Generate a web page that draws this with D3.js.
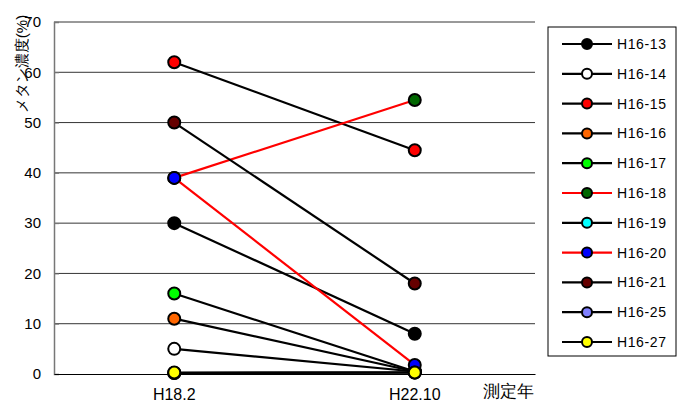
<!DOCTYPE html>
<html>
<head>
<meta charset="utf-8">
<script src="https://cdn.jsdelivr.net/npm/d3@7"></script>
<style>
  body { margin: 0; background: #fff; }
  text { font-family: "Liberation Sans", Arial, sans-serif; }
</style>
</head>
<body>
<svg id="chart" width="678" height="405"></svg>
<script>
const years = ["H18.2", "H22.10"];
const names = ["H16-13", "H16-14", "H16-15", "H16-16", "H16-17", "H16-18",
               "H16-19", "H16-20", "H16-21", "H16-25", "H16-27"];
const valuesH18 = [30, 5, 62, 11, 16, 39, 0.2, 39, 50, 0.2, 0.3];
const valuesH22 = [8, 0.5, 44.5, 0.5, 0.5, 54.5, 0.3, 1.8, 18, 0.3, 0.3];
const fills = ["#000000", "#ffffff", "#ff0000", "#ff6600", "#00ff00", "#006600",
               "#00ffff", "#0000ff", "#660000", "#8080ff", "#ffff00"];
const lineColors = ["#000", "#000", "#000", "#000", "#000", "#ff0000",
                    "#000", "#ff0000", "#000", "#000", "#000"];
const yTicks = [0, 10, 20, 30, 40, 50, 60, 70];

const margin = { top: 22, left: 54, bottom: 31, right: 143 };
const width = 678 - margin.left - margin.right;
const height = 405 - margin.top - margin.bottom;

const svg = d3.select('#chart');

const x = d3.scaleBand()
  .domain(years)
  .range([0, width]);

const y = d3.scaleLinear()
  .domain([0, 70])
  .range([height, 0]);

const chart = svg.append('g')
  .attr('transform', 'translate(' + margin.left + ',' + margin.top + ')');

// gridlines
chart.selectAll('.grid')
    .data(yTicks.slice(1))
  .enter().append('line')
    .attr('x1', 0)
    .attr('x2', width)
    .attr('y1', d => y(d))
    .attr('y2', d => y(d))
    .attr('stroke', '#000')
    .attr('stroke-width', 0.8);

const yAxis = chart.append('g')
  .call(d3.axisLeft(y).tickValues(yTicks).tickSize(-5).tickPadding(13));
yAxis.select('.domain').attr('stroke', '#777').attr('stroke-width', 1.5);
yAxis.selectAll('.tick line').attr('stroke', '#777');
yAxis.selectAll('.tick text')
  .attr('font-size', 15)
  .attr('fill', '#000')
  .attr('font-family', '"Liberation Sans", Arial, sans-serif');

const xAxis = chart.append('g')
  .attr('transform', 'translate(0,' + height + ')')
  .call(d3.axisBottom(x).tickSize(0).tickPadding(15));
xAxis.select('.domain').attr('stroke', '#000').attr('stroke-width', 1.2);
xAxis.selectAll('.tick text')
  .attr('font-size', 16)
  .attr('fill', '#000')
  .attr('font-family', '"Liberation Sans", Arial, sans-serif');

const series = names.map((n, i) => ({
  name: n,
  values: [valuesH18[i], valuesH22[i]],
  fill: fills[i],
  stroke: lineColors[i]
}));

const line = d3.line()
  .x((d, j) => x(years[j]) + x.bandwidth() / 2)
  .y(d => y(d));

const g = chart.selectAll('.series')
    .data(series)
  .enter().append('g');

g.append('path')
  .attr('d', d => line(d.values))
  .attr('fill', 'none')
  .attr('stroke', d => d.stroke)
  .attr('stroke-width', 2.2);

g.selectAll('circle')
    .data(d => d.values.map(v => ({ v: v, fill: d.fill })))
  .enter().append('circle')
    .attr('cx', (d, j) => x(years[j]) + x.bandwidth() / 2)
    .attr('cy', d => y(d.v))
    .attr('r', 6)
    .attr('fill', d => d.fill)
    .attr('stroke', '#000')
    .attr('stroke-width', 2);

// axis titles
svg.append('text')
  .attr('transform', 'translate(21,64) rotate(-90)')
  .attr('text-anchor', 'middle')
  .attr('dominant-baseline', 'central')
  .attr('font-size', 15)
  .attr('font-family', '"Noto Sans CJK JP", sans-serif')
  .text('メタン濃度(%)');

svg.append('text')
  .attr('x', 483)
  .attr('y', 397)
  .attr('font-size', 17)
  .attr('font-family', '"Noto Sans CJK JP", sans-serif')
  .text('測定年');

// legend
const legend = svg.append('g').attr('transform', 'translate(548,27)');
legend.append('rect')
  .attr('width', 128)
  .attr('height', 329)
  .attr('fill', '#fff')
  .attr('stroke', '#000')
  .attr('stroke-width', 1);

const item = legend.selectAll('.item')
    .data(series)
  .enter().append('g')
    .attr('transform', (d, i) => 'translate(0,' + (17 + i * 29.8) + ')');

item.append('line')
  .attr('x1', 14).attr('x2', 64)
  .attr('stroke', d => d.stroke)
  .attr('stroke-width', 2.2);
item.append('circle')
  .attr('cx', 39)
  .attr('r', 5)
  .attr('fill', d => d.fill)
  .attr('stroke', '#000')
  .attr('stroke-width', 2);
item.append('text')
  .attr('x', 69)
  .attr('y', 5)
  .attr('font-size', 14)
  .attr('letter-spacing', 0.6)
  .text(d => d.name);
</script>
</body>
</html>
